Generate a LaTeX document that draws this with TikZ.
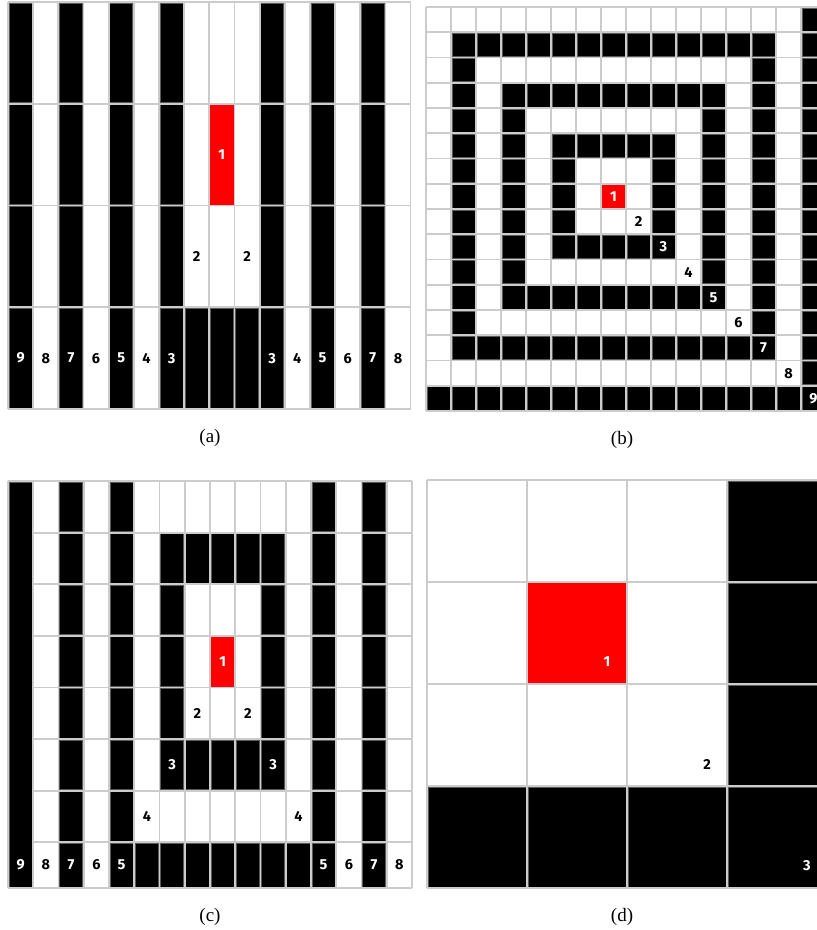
\documentclass[tikz,border=0pt]{standalone}
\usepackage{fontspec}
\setmainfont{Liberation Serif}
\newfontfamily\cellfont{Fira Sans}
\usetikzlibrary{positioning}
\definecolor{gridgray}{HTML}{CCCCCC}
\definecolor{edge}{HTML}{5A5A5A}
\definecolor{hot}{HTML}{FF0000}
\tikzset{
  blk/.style={fill=black,draw=edge,line width=0.8pt},
  redcell/.style={fill=hot},
  gridln/.style={draw=gridgray,line width=1.8pt},
  num/.style={font=\cellfont\bfseries\fontsize{14.5}{14.5}\selectfont,inner sep=0pt},
  captext/.style={font=\fontsize{19}{19}\selectfont}}

\begin{document}
\begin{tikzpicture}[x=1pt,y=-1pt,node distance=17pt]
\useasboundingbox (0,0) rectangle (817,930);
\clip (0,0) rectangle (817,930);

% (a) stripes, 16 x 4
\foreach \c in {0,...,15}
  \foreach \r in {0,...,3}{
    \pgfmathtruncatemacro\d{max(abs(\c-8),abs(\r-1))}
    \ifnum\d=0 \fill[redcell] ({8+25.16*\c},{2+101.75*\r}) rectangle ++(25.16,101.75);
    \else\ifodd\d\else \filldraw[blk] ({9+25.16*\c},{3+101.75*\r}) rectangle ++(23.16,99.75); \fi\fi}
\foreach \c in {0,...,16} \draw[gridln] ({8+25.16*\c},2) -- ++(0,407);
\foreach \r in {0,...,4} \draw[gridln] (8,{2+101.75*\r}) -- ++(402.6,0);
\node[num,text=white] (a1) at ({8+25.16*8.5},{2+101.75*1.5}) {1};
\foreach \c in {7,9} \node[num] (a2-\c) at ({8+25.16*(\c+0.5)},{2+101.75*2.5}) {2};
\foreach \c in {0,...,6,10,11,...,15}{
  \pgfmathtruncatemacro\d{abs(\c-8)}
  \pgfmathtruncatemacro\n{\d+1}
  \ifodd\d\def\tc{black}\else\def\tc{white}\fi
  \node[num,text=\tc] (a3-\c) at ({8+25.16*(\c+0.5)},{2+101.75*3.5}) {\n};}

% (b) squares, 16 x 16
\foreach \c in {0,...,15}
  \foreach \r in {0,...,15}{
    \pgfmathtruncatemacro\d{max(abs(\c-7),abs(\r-7))}
    \ifnum\d=0 \fill[redcell] ({426+25*\c},{7+25.25*\r}) rectangle ++(25,25.25);
    \else\ifodd\d\else \filldraw[blk] ({427+25*\c},{8+25.25*\r}) rectangle ++(23,23.25); \fi\fi}
\foreach \c in {0,...,16} \draw[gridln] ({426+25*\c},7) -- ++(0,404);
\foreach \r in {0,...,16} \draw[gridln] (426,{7+25.25*\r}) -- ++(400,0);
\foreach \k in {0,...,8}{
  \pgfmathtruncatemacro\n{\k+1}
  \ifodd\k\def\tc{black}\else\def\tc{white}\fi
  \node[num,text=\tc] (b\n) at ({426+25*(7.5+\k)},{7+25.25*(7.5+\k)}) {\n};}

% (c) mixed, 16 x 8
\begin{scope}
\clip (0,470) rectangle (420,888);
\foreach \c in {1,...,15}
  \foreach \r in {0,...,7}{
    \pgfmathtruncatemacro\d{max(abs(\c-8),abs(\r-3))}
    \ifnum\d=0 \fill[redcell] ({8+25.25*\c},{481+51.6*\r}) rectangle ++(25.25,51.6);
    \else\ifodd\d\else \filldraw[blk] ({9+25.25*\c},{482+51.6*\r}) rectangle ++(23.25,49.6); \fi\fi}
\end{scope}
\filldraw[blk] (9,482) rectangle (32.25,887);
\foreach \c in {0,...,16} \draw[gridln] ({8+25.25*\c},481) -- ++(0,407);
\foreach \r in {0,...,7} \draw[gridln] (33.25,{481+51.6*\r}) -- (412,{481+51.6*\r});
\draw[gridln] (8,481) -- (33.25,481);
\draw[gridln] (8,888) -- (412,888);
\node[num,text=white] (c1) at ({8+25.25*8.5},{481+51.6*3.5}) {1};
\foreach \k in {1,2,3}{
  \pgfmathtruncatemacro\n{\k+1}
  \ifodd\k\def\tc{black}\else\def\tc{white}\fi
  \node[num,text=\tc] (c\n l) at ({8+25.25*(8.5-\k)},{481+51.6*(3.5+\k)}) {\n};
  \node[num,text=\tc] (c\n r) at ({8+25.25*(8.5+\k)},{481+51.6*(3.5+\k)}) {\n};}
\foreach \c in {0,...,4,12,13,...,15}{
  \pgfmathtruncatemacro\d{abs(\c-8)}
  \pgfmathtruncatemacro\n{\d+1}
  \ifodd\d\def\tc{black}\else\def\tc{white}\fi
  \node[num,text=\tc] (c7-\c) at ({8+25.25*(\c+0.5)},865) {\n};}

% (d) close-up, 4 x 4
\foreach \c in {0,...,3}
  \foreach \r in {0,...,3}{
    \pgfmathtruncatemacro\d{max(abs(\c-1),abs(\r-1))}
    \ifnum\d=0 \fill[redcell] ({427+100*\c},{480+102*\r}) rectangle ++(100,102);
    \else\ifodd\d\else \filldraw[blk] ({428+100*\c},{481+102*\r}) rectangle ++(98,100); \fi\fi}
\foreach \c in {0,...,4} \draw[gridln] ({427+100*\c},480) -- ++(0,408);
\foreach \r in {0,...,4} \draw[gridln] (427,{480+102*\r}) -- ++(400,0);
\foreach \k in {0,1,2}{
  \pgfmathtruncatemacro\n{\k+1}
  \ifodd\k\def\tc{black}\else\def\tc{white}\fi
  \node[num,text=\tc] (d\n) at ({427+100*(1+\k)+80},{480+102*(1+\k)+80}) {\n};}

% captions
\coordinate (abase) at (210,409);
\coordinate (bbase) at (622,411);
\coordinate (cbase) at (210,888);
\coordinate (dbase) at (622,888);
\node[captext,below=of abase] (capa) {(a)};
\node[captext,below=of bbase] (capb) {(b)};
\node[captext,below=of cbase] (capc) {(c)};
\node[captext,below=of dbase] (capd) {(d)};
\end{tikzpicture}
\end{document}
